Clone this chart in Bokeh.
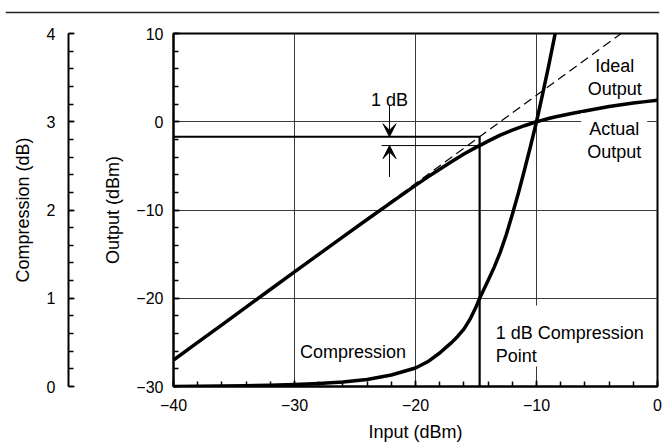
from bokeh.plotting import figure
from bokeh.layouts import column, row
from bokeh.models import (Range1d, SingleIntervalTicker, Label, Arrow, VeeHead, Span)
from bokeh.embed import file_html
from bokeh.resources import INLINE

FONT = "Liberation Sans"

# Actual amplifier output versus input drive
actual_in = [-40, -38, -36, -34, -32, -30, -28, -26, -24, -22, -20, -19, -18, -17,
             -16, -15, -14.7, -14, -13, -12, -11, -10, -9.5, -9, -8.5, -8, -7, -6,
             -5, -4, -3, -2, -1, 0]
actual_out = [-27.00, -25.00, -23.01, -21.01, -19.01, -17.02, -15.03, -13.05, -11.08,
              -9.13, -7.21, -6.28, -5.38, -4.50, -3.65, -2.90, -2.70, -2.20, -1.52,
              -0.95, -0.45, 0.00, 0.19, 0.37, 0.53, 0.68, 0.96, 1.22, 1.48, 1.72,
              1.93, 2.12, 2.28, 2.43]

# Gain compression (read on the 0-4 dB scale)
comp_in = [-40, -38, -36, -34, -32, -30, -28, -26, -24, -22, -20, -19, -18, -17.5,
           -17, -16.5, -16, -15.5, -15, -14.7, -14, -13.5, -13, -12.5, -12, -11.5,
           -11, -10.5, -10, -9.5, -9, -8.5, -8]
comp_db = [0.00, 0.004, 0.006, 0.009, 0.014, 0.022, 0.034, 0.052, 0.08, 0.13, 0.21,
           0.28, 0.38, 0.44, 0.50, 0.57, 0.65, 0.76, 0.90, 1.00, 1.20, 1.35, 1.52,
           1.72, 1.95, 2.19, 2.45, 2.72, 3.00, 3.31, 3.63, 3.97, 4.32]

# Ideal (linear, 13 dB gain) output line
ideal_in = [-40, -3]
ideal_out = [-27, 10]

# 1 dB compression point
p1_in = -14.7
p1_ideal = -1.7
p1_actual = -2.7

x_ticks = [-40, -30, -20, -10, 0]
x_tick_labels = ["\u221240", "\u221230", "\u221220", "\u221210", "0"]
y_ticks = [-30, -20, -10, 0, 10]
y_tick_labels = ["\u221230", "\u221220", "\u221210", "0", "10"]
c_ticks = [0, 1, 2, 3, 4]
c_tick_labels = ["0", "1", "2", "3", "4"]

H = 424
TOP, BOTTOM = 13, 57


def style_axis(ax, tick_labels):
    ax.axis_line_width = 2
    ax.axis_line_color = "black"
    ax.major_tick_in = 6
    ax.major_tick_out = 0
    ax.minor_tick_in = 5
    ax.minor_tick_out = 0
    ax.major_tick_line_color = "black"
    ax.minor_tick_line_color = "black"
    ax.major_tick_line_width = 1.5
    ax.minor_tick_line_width = 1.5
    ax.major_label_text_font = FONT
    ax.major_label_text_font_size = "16px"
    ax.major_label_text_color = "black"
    ax.axis_label_text_font = FONT
    ax.axis_label_text_font_size = "18px"
    ax.axis_label_text_font_style = "normal"
    ax.axis_label_text_color = "black"
    ax.major_label_overrides = tick_labels


# rule across the top of the page
rule = figure(width=664, height=20, x_range=Range1d(0, 1), y_range=Range1d(0, 1),
              min_border_left=5, min_border_right=5, min_border_top=11,
              min_border_bottom=7, x_axis_location=None, y_axis_location=None,
              toolbar_location=None, output_backend="svg")
rule.grid.visible = False
rule.outline_line_color = None
rule.add_layout(Span(location=0.5, dimension="width", line_color="#222222",
                     line_width=2))

# stand-alone compression scale on the far left
cfig = figure(width=76, height=H, x_range=Range1d(0, 1), y_range=Range1d(0, 4),
              min_border_left=68, min_border_right=0, min_border_top=TOP,
              min_border_bottom=BOTTOM, x_axis_location=None,
              toolbar_location=None, output_backend="svg")
cfig.grid.visible = False
cfig.outline_line_color = None
cax = cfig.yaxis[0]
cax.ticker = SingleIntervalTicker(interval=1, num_minor_ticks=5)
style_axis(cax, dict(zip(c_ticks, c_tick_labels)))
cax.axis_label = "Compression (dB)"
cax.major_label_standoff = 13
cax.axis_label_standoff = 11

# main input/output plot
p = figure(width=588, height=H, x_range=Range1d(-40, 0), y_range=Range1d(-30, 10),
           min_border_left=97, min_border_right=7, min_border_top=TOP,
           min_border_bottom=BOTTOM, toolbar_location=None, output_backend="svg")
p.extra_y_ranges = {"comp": Range1d(0, 4)}
p.outline_line_color = "black"
p.outline_line_width = 2
p.background_fill_color = "white"

p.xaxis.ticker = SingleIntervalTicker(interval=10, num_minor_ticks=5)
p.yaxis.ticker = SingleIntervalTicker(interval=10, num_minor_ticks=5)
p.xgrid.ticker = SingleIntervalTicker(interval=10)
p.ygrid.ticker = SingleIntervalTicker(interval=10)
for g in (p.xgrid[0], p.ygrid[0]):
    g.grid_line_color = "#3a3a3a"
    g.grid_line_width = 1

style_axis(p.xaxis[0], dict(zip(x_ticks, x_tick_labels)))
style_axis(p.yaxis[0], dict(zip(y_ticks, y_tick_labels)))
p.xaxis.axis_label = "Input (dBm)"
p.yaxis.axis_label = "Output (dBm)"
p.xaxis.major_label_standoff = 12
p.xaxis.axis_label_standoff = 8
p.yaxis.major_label_standoff = 10
p.yaxis.axis_label_standoff = 10

# ideal gain line
p.line(ideal_in, ideal_out, line_color="black", line_width=1.2, line_dash="9 5")

# 1 dB compression construction lines
p.line([-40, p1_in, p1_in], [p1_ideal, p1_ideal, -30], line_color="black",
       line_width=2.2)
p.line([-22.8, p1_in], [p1_actual, p1_actual], line_color="black", line_width=1)

arrow_x = -22.15
for y0, y1 in ((1.8, p1_ideal), (-6.25, p1_actual)):
    p.add_layout(Arrow(end=VeeHead(size=13, fill_color="black", line_color="black"),
                       x_start=arrow_x, y_start=y0, x_end=arrow_x, y_end=y1,
                       line_color="black", line_width=1))

# measured curves
p.line(actual_in, actual_out, line_color="black", line_width=3.5,
       line_join="round")
p.line(comp_in, comp_db, y_range_name="comp", line_color="black", line_width=3.5,
       line_join="round")


def note(x, y, text, align="left", pad=0):
    lab = Label(x=x, y=y, text=text, text_align=align, text_baseline="top",
                text_font=FONT, text_font_size="18px", text_color="black",
                text_line_height=1.15)
    if pad:
        lab.background_fill_color = "white"
        lab.padding = pad
    p.add_layout(lab)


note(arrow_x, 3.59, "1 dB", align="center")
note(-3.54, 7.47, "Ideal\nOutput", align="center")
note(-3.58, 1.0, "Actual\nOutput", align="center", pad=6)
note(-13.87, -20.82, "1 dB Compression\nPoint", pad=(6, 6, 18, 0))
note(-29.55, -24.92, "Compression")

layout = column(rule, row(cfig, p))

open("out.html", "w").write(file_html(layout, INLINE))
